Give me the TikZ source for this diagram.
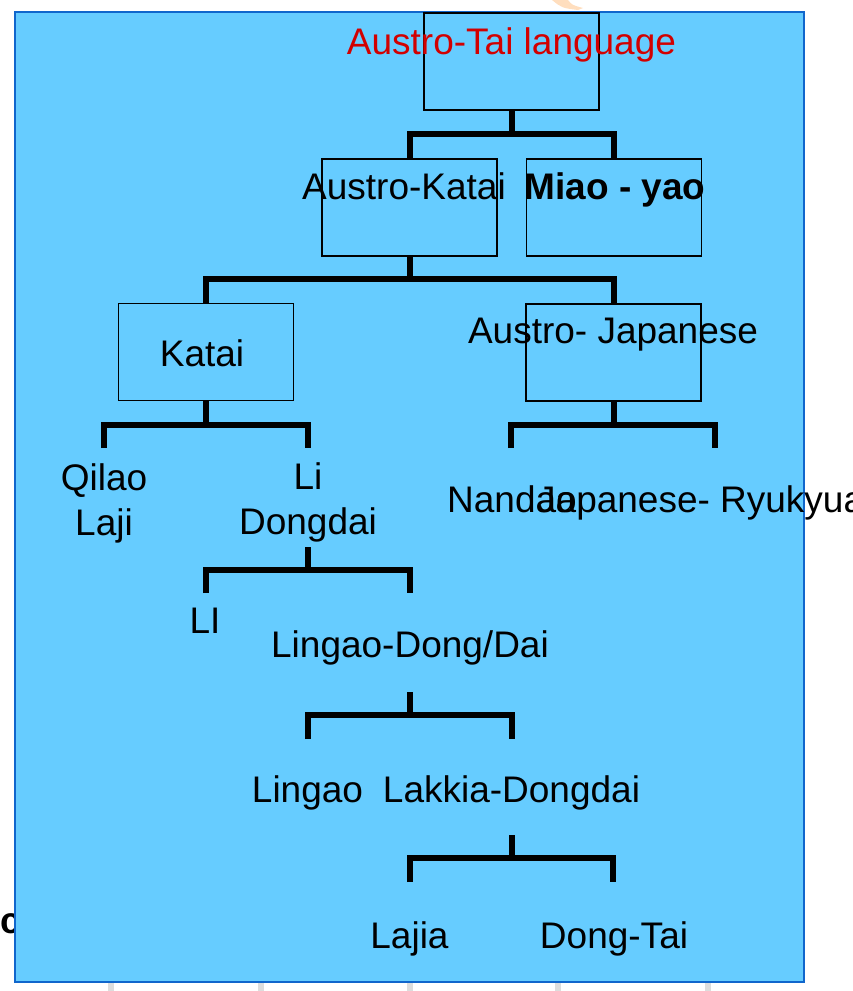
\documentclass[tikz,border=0pt]{standalone}
\usepackage{fontspec}
\setmainfont{Liberation Sans}
\definecolor{bgblue}{RGB}{102,204,255}
\definecolor{edgeblue}{RGB}{16,102,204}
\definecolor{titlered}{RGB}{210,0,0}
\definecolor{stubgray}{RGB}{221,221,221}
\definecolor{blobor}{RGB}{255,222,190}
\begin{document}
\begin{tikzpicture}[x=1pt,y=-1pt,
  box/.style={draw=black,line width=1.6pt,minimum width=175pt,minimum height=97pt,inner sep=0pt},
  lbl/.style={inner sep=0pt,anchor=base,font=\fontsize{37}{45}\selectfont,align=center},
  conn/.style={line width=6pt,line join=miter,line cap=butt},
  stub/.style={stubgray,line width=6pt},
]
\useasboundingbox (0,0) rectangle (853,991);
% background artefacts
\fill[blobor] (552,0) -- (568,0) .. controls (572,5) .. (583,8) -- (578,10) .. controls (562,8) .. (552,0) -- cycle;
\foreach \sx in {111,261,410,558,708} \draw[stub] (\sx,982) -- (\sx,991);
\node[lbl,anchor=base west,font=\fontsize{37}{45}\selectfont\bfseries] (cfrag) at (0,933) {c};
% panel
\draw[fill=bgblue,draw=edgeblue,line width=2.5pt] (15,12) rectangle (804,982);
% boxes
\node[box] (top) at (511.5,61.5) {};
\node[box] (ak) at (409.5,207.5) {};
\node[box] (my) at (614,207.5) {};
\node[box] (katai) at (206,352) {};
\node[box] (aj) at (613.5,352.5) {};
% texts
\node[lbl,text=titlered] (ttop) at (511.5,54) {Austro-Tai language};
\node[lbl] (tak) at (404,199) {Austro-Katai};
\node[lbl,font=\fontsize{37}{45}\selectfont\bfseries] (tmy) at (615,199) {Miao - yao};
\node[lbl] (tkatai) at (202,366) {Katai};
\node[lbl] (taj) at (613,343) {Austro- Japanese};
\node[lbl] (qilao) at (104,535) {Qilao\\Laji};
\node[lbl] (lidd) at (308,534) {Li\\Dongdai};
\node[lbl,anchor=base west] (nandao) at (447,512) {Nandao};
\node[lbl,anchor=base west] (japr) at (537,512) {Japanese- Ryukyuan};
\node[lbl] (li) at (205,633) {LI};
\node[lbl] (ldd) at (410,657) {Lingao-Dong/Dai};
\node[lbl] (lingao) at (307.5,802) {Lingao};
\node[lbl] (lakkia) at (511.5,802) {Lakkia-Dongdai};
\node[lbl] (lajia) at (409.5,948) {Lajia};
\node[lbl] (dongtai) at (614,948) {Dong-Tai};
% connectors
\coordinate (j1) at (511.5,134);
\draw[conn] (top.south) -- (j1);
\draw[conn] (ak.north) |- (j1) -| (my.north);
\coordinate (j2) at (409.5,279);
\draw[conn] (ak.south) -- (j2);
\draw[conn] (katai.north) |- (j2) -| (aj.north);
\coordinate (j3) at (206,425);
\coordinate (qa) at (104,448);
\coordinate (lb) at (307.5,448);
\draw[conn] (katai.south) -- (j3);
\draw[conn] (qa) |- (j3) -| (lb);
\coordinate (j4) at (613.5,425);
\coordinate (na) at (511,448);
\coordinate (ja) at (715,448);
\draw[conn] (aj.south) -- (j4);
\draw[conn] (na) |- (j4) -| (ja);
\coordinate (s5) at (308,547);
\coordinate (j5) at (308,570);
\coordinate (la5) at (206,593);
\coordinate (lb5) at (410,593);
\draw[conn] (s5) -- (j5);
\draw[conn] (la5) |- (j5) -| (lb5);
\coordinate (s6) at (410,692);
\coordinate (j6) at (410,715);
\coordinate (la6) at (308,739);
\coordinate (lb6) at (512,739);
\draw[conn] (s6) -- (j6);
\draw[conn] (la6) |- (j6) -| (lb6);
\coordinate (s7) at (512,835);
\coordinate (j7) at (512,858);
\coordinate (la7) at (410,882);
\coordinate (lb7) at (613,882);
\draw[conn] (s7) -- (j7);
\draw[conn] (la7) |- (j7) -| (lb7);
\end{tikzpicture}
\end{document}
